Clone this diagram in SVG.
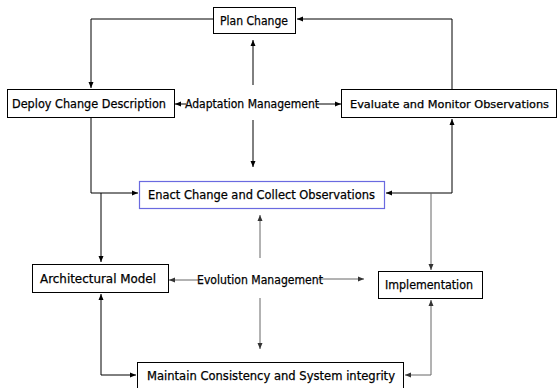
<svg xmlns="http://www.w3.org/2000/svg" width="558" height="388" viewBox="0 0 558 388">
<style>
.box{fill:#fff;stroke:#000;stroke-width:1}
.enact{fill:#fff;stroke:#6a6ae0;stroke-width:1.2}
.t{font-family:"Comic Sans MS","DejaVu Sans","Liberation Sans",sans-serif;font-size:12px;fill:#000;stroke:#000;stroke-width:0.25}
.c{fill:none;stroke:#000;stroke-width:1}
.g{fill:none;stroke:#666;stroke-width:1}
</style>
<defs>
<marker id="a" markerUnits="userSpaceOnUse" markerWidth="6" markerHeight="6" refX="6" refY="3" orient="auto-start-reverse"><path d="M0,0.5 L6,3 L0,5.5 z" fill="#000"/></marker>
<marker id="ag" markerUnits="userSpaceOnUse" markerWidth="6" markerHeight="6" refX="6" refY="3" orient="auto-start-reverse"><path d="M0,0.5 L6,3 L0,5.5 z" fill="#333"/></marker>
</defs>
<g id="connectors">
<path class="c" d="M213,19 H91 V88" marker-end="url(#a)"/>
<path class="c" d="M452,89 V19 H297" marker-end="url(#a)"/>
<path class="c" d="M186,104 H175" marker-end="url(#a)"/>
<path class="c" d="M316,104 H341" marker-end="url(#a)"/>
<path class="c" d="M253,85 V40" marker-end="url(#a)"/>
<path class="c" d="M253,120 V167" marker-end="url(#a)"/>
<path class="c" d="M91,117 V193 H138" marker-end="url(#a)"/>
<path class="c" d="M101,193 V262" marker-end="url(#a)"/>
<path class="c" d="M452,119 V193 H386" marker-start="url(#a)" marker-end="url(#a)"/>
<path class="g" d="M431,193 V270" marker-end="url(#ag)"/>
<path class="g" d="M260,258 V215" marker-end="url(#ag)"/>
<path class="g" d="M260,298 V349" marker-end="url(#ag)"/>
<path class="g" d="M198,280 H169" marker-end="url(#ag)"/>
<path class="g" d="M318,279 H364" marker-end="url(#ag)"/>
<path class="c" d="M101,294 V375 H136" marker-start="url(#a)" marker-end="url(#a)"/>
<path class="g" d="M431,300 V375 H405" marker-start="url(#ag)" marker-end="url(#ag)"/>
</g>
<g id="plan-change"><rect class="box" x="213.5" y="7.5" width="82" height="26"/><text class="t" x="220" y="25" textLength="68" lengthAdjust="spacingAndGlyphs">Plan Change</text></g>
<g id="deploy"><rect class="box" x="7.5" y="89.5" width="167" height="28"/><text class="t" x="12" y="108" textLength="154" lengthAdjust="spacingAndGlyphs">Deploy Change Description</text></g>
<g id="adaptation"><text class="t" x="185" y="108" textLength="134" lengthAdjust="spacingAndGlyphs">Adaptation Management</text></g>
<g id="evaluate"><rect class="box" x="341.5" y="89.5" width="215" height="28"/><text class="t" x="350" y="108" style="font-size:10.5px" textLength="199" lengthAdjust="spacingAndGlyphs">Evaluate and Monitor Observations</text></g>
<g id="enact"><rect class="enact" x="139.5" y="181.5" width="245" height="27"/><text class="t" x="148" y="199" textLength="227" lengthAdjust="spacingAndGlyphs">Enact Change and Collect Observations</text></g>
<g id="arch-model"><rect class="box" x="32.5" y="264.5" width="136" height="28"/><text class="t" x="40" y="283" textLength="116" lengthAdjust="spacingAndGlyphs">Architectural Model</text></g>
<g id="evolution"><text class="t" x="197" y="284" textLength="126" lengthAdjust="spacingAndGlyphs">Evolution Management</text></g>
<g id="implementation"><rect class="box" x="378.5" y="271.5" width="104" height="27"/><text class="t" x="385" y="289" textLength="88" lengthAdjust="spacingAndGlyphs">Implementation</text></g>
<g id="maintain"><rect class="box" x="137.5" y="362.5" width="266" height="26"/><text class="t" x="147" y="380" textLength="248" lengthAdjust="spacingAndGlyphs">Maintain Consistency and System integrity</text></g>
</svg>
